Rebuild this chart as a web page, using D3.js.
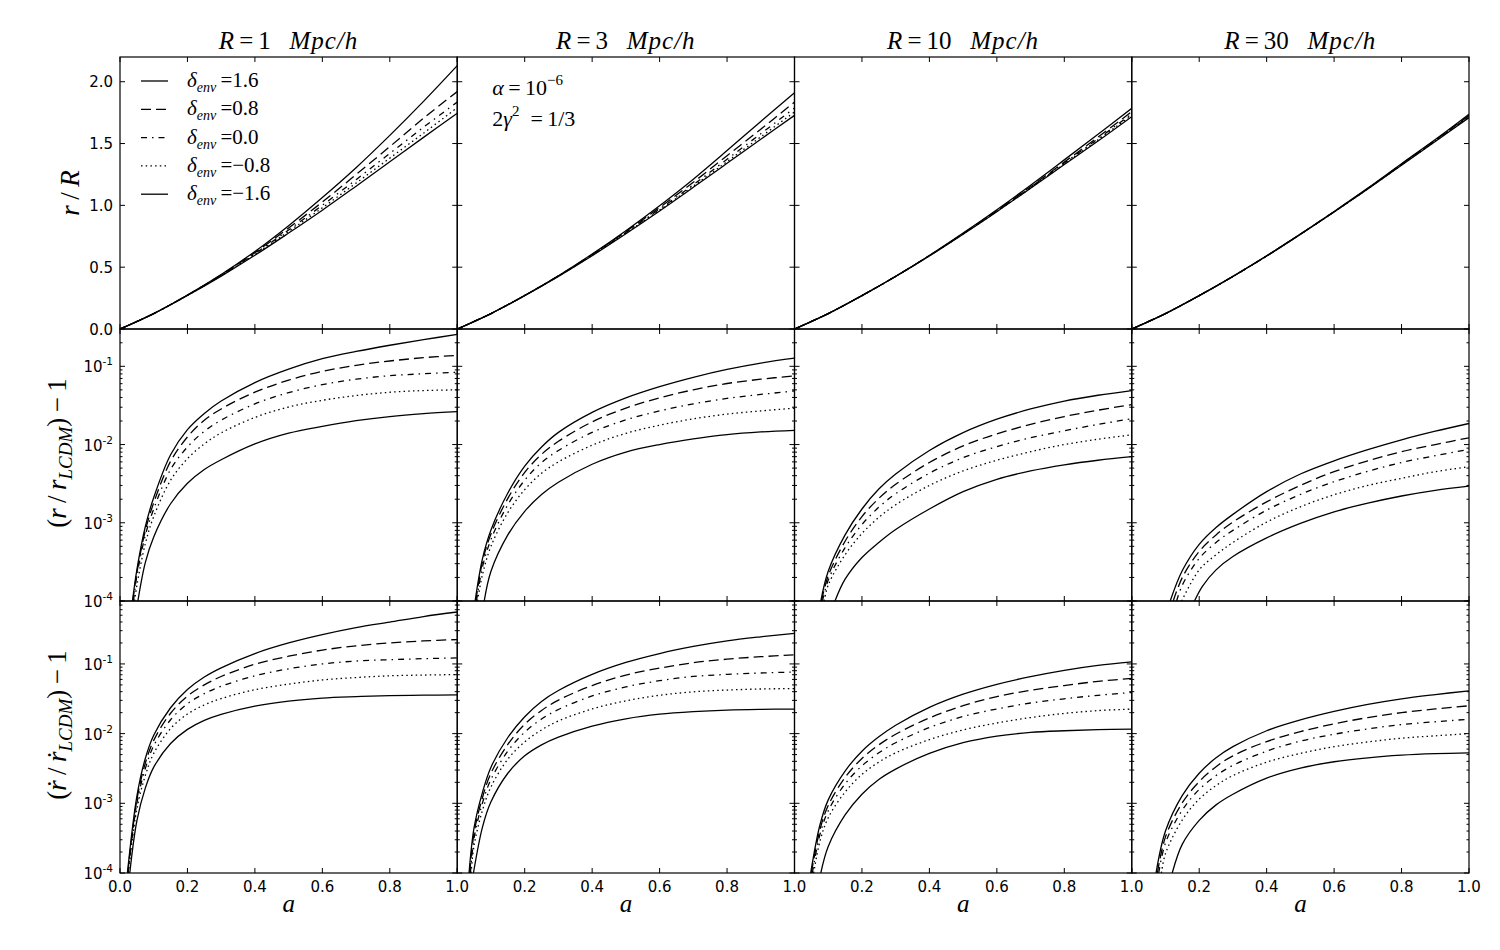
<!DOCTYPE html>
<html>
<head>
<meta charset="utf-8">
<script src="https://cdn.jsdelivr.net/npm/d3@7"></script>
<style>
body { margin: 0; background: #fff; }
text { fill: #000; }
</style>
</head>
<body>
<svg id="fig" width="1500" height="950"></svg>
<script>
// ---- data ----
var radii = [1, 3, 10, 30];
var deltas = ["1.6", "0.8", "0.0", "\u22120.8", "\u22121.6"];
var xTicks = [0, 0.2, 0.4, 0.6, 0.8, 1.0];
var xTickLabels = ["0.0", "0.2", "0.4", "0.6", "0.8", "1.0"];
var linTicks = [0, 0.5, 1.0, 1.5, 2.0];
var linTickLabels = ["0.0", "0.5", "1.0", "1.5", "2.0"];
var logExps = [-4, -3, -2, -1];

// r/R on this grid of a
var aLin = [0, 0.1, 0.2, 0.3, 0.4, 0.5, 0.6, 0.7, 0.8, 0.9, 1.0];
var rR1 = [
  [0, .125, .275, .441, .627, .836, 1.064, 1.305, 1.566, 1.841, 2.13],
  [0, .125, .274, .438, .618, .817, 1.027, 1.249, 1.475, 1.705, 1.92],
  [0, .125, .273, .434, .610, .801, 1.001, 1.208, 1.420, 1.632, 1.835],
  [0, .125, .272, .431, .604, .789, .980, 1.180, 1.382, 1.584, 1.79],
  [0, .125, .271, .428, .596, .776, .961, 1.155, 1.352, 1.550, 1.745]
];
var rR3 = [
  [0, .125, .271, .431, .606, .795, .997, 1.212, 1.443, 1.679, 1.91],
  [0, .125, .271, .430, .602, .788, .983, 1.187, 1.402, 1.616, 1.835],
  [0, .125, .271, .429, .599, .781, .970, 1.167, 1.373, 1.579, 1.788],
  [0, .125, .271, .428, .596, .776, .962, 1.156, 1.354, 1.554, 1.755],
  [0, .125, .270, .426, .593, .771, .955, 1.146, 1.340, 1.535, 1.728]
];
var rR10 = [
  [0, .125, .270, .427, .595, .776, .965, 1.163, 1.368, 1.575, 1.785],
  [0, .125, .270, .426, .594, .772, .958, 1.151, 1.350, 1.552, 1.758],
  [0, .125, .270, .426, .593, .770, .954, 1.146, 1.342, 1.539, 1.740],
  [0, .125, .270, .426, .592, .769, .951, 1.141, 1.335, 1.531, 1.728],
  [0, .125, .270, .425, .591, .767, .949, 1.138, 1.330, 1.520, 1.717]
];
var rR30 = [
  [0, .125, .270, .426, .592, .768, .951, 1.140, 1.337, 1.532, 1.737],
  [0, .125, .270, .425, .591, .767, .949, 1.137, 1.333, 1.528, 1.726],
  [0, .125, .270, .425, .591, .767, .948, 1.135, 1.330, 1.524, 1.720],
  [0, .125, .270, .425, .590, .766, .947, 1.134, 1.327, 1.520, 1.714],
  [0, .125, .270, .425, .590, .765, .946, 1.133, 1.325, 1.517, 1.710]
];

// (r/r_LCDM)-1 : [a, value]
var dr1 = [
  [[.037,1e-4],[.05,2.5e-4],[.075,8.9e-4],[.1,2.1e-3],[.15,7.4e-3],[.2,.0155],[.25,.025],[.3,.036],[.4,.062],[.5,.092],[.6,.125],[.7,.155],[.8,.186],[.9,.219],[1,.256]],
  [[.038,1e-4],[.05,2.3e-4],[.075,7.9e-4],[.1,1.8e-3],[.15,6.1e-3],[.2,.0125],[.25,.0205],[.3,.0285],[.4,.0468],[.5,.0665],[.6,.0861],[.7,.103],[.8,.117],[.9,.129],[1,.138]],
  [[.04,1e-4],[.05,2.1e-4],[.075,6.9e-4],[.1,1.5e-3],[.15,4.8e-3],[.2,9.3e-3],[.25,.0148],[.3,.0205],[.4,.0331],[.5,.0461],[.6,.0583],[.7,.0684],[.8,.0759],[.9,.0804],[1,.084]],
  [[.043,1e-4],[.05,1.58e-4],[.075,5.4e-4],[.1,1.2e-3],[.15,3.5e-3],[.2,6.6e-3],[.25,.0102],[.3,.0141],[.4,.0222],[.5,.0302],[.6,.0368],[.7,.0423],[.8,.0466],[.9,.049],[1,.05]],
  [[.053,1e-4],[.075,3.1e-4],[.1,6.6e-4],[.15,1.75e-3],[.2,3.2e-3],[.25,4.8e-3],[.3,6.4e-3],[.4,.0102],[.5,.014],[.6,.0171],[.7,.0202],[.8,.0228],[.9,.0248],[1,.0263]]
];
var dr3 = [
  [[.053,1e-4],[.075,3.5e-4],[.1,8.1e-4],[.15,2.4e-3],[.2,5.3e-3],[.25,9.3e-3],[.3,.0143],[.4,.0258],[.5,.0395],[.6,.055],[.7,.0724],[.8,.0912],[.9,.11],[1,.127]],
  [[.055,1e-4],[.075,3.2e-4],[.1,7.2e-4],[.15,2.05e-3],[.2,4.4e-3],[.25,7.5e-3],[.3,.011],[.4,.0195],[.5,.0292],[.6,.0395],[.7,.0501],[.8,.0603],[.9,.0684],[1,.0757]],
  [[.057,1e-4],[.075,2.75e-4],[.1,6.1e-4],[.15,1.7e-3],[.2,3.5e-3],[.25,5.9e-3],[.3,8.4e-3],[.4,.0143],[.5,.0207],[.6,.0269],[.7,.0331],[.8,.0389],[.9,.0437],[1,.0484]],
  [[.06,1e-4],[.075,2.2e-4],[.1,5e-4],[.15,1.35e-3],[.2,2.65e-3],[.25,4.3e-3],[.3,6e-3],[.4,9.8e-3],[.5,.0139],[.6,.0177],[.7,.0213],[.8,.0245],[.9,.0269],[1,.0292]],
  [[.08,1e-4],[.1,2.4e-4],[.15,7e-4],[.2,1.4e-3],[.25,2.3e-3],[.3,3.3e-3],[.4,5.6e-3],[.5,8e-3],[.6,.01],[.7,.0118],[.8,.0134],[.9,.0145],[1,.0152]]
];
var dr10 = [
  [[.078,1e-4],[.1,2.4e-4],[.15,7e-4],[.2,1.5e-3],[.25,2.7e-3],[.3,4.2e-3],[.4,8.4e-3],[.5,.0142],[.6,.0211],[.7,.0285],[.8,.036],[.9,.0427],[1,.049]],
  [[.08,1e-4],[.1,2.1e-4],[.15,5.8e-4],[.2,1.2e-3],[.25,2.05e-3],[.3,3.1e-3],[.4,5.9e-3],[.5,9.6e-3],[.6,.0137],[.7,.0181],[.8,.0228],[.9,.0275],[1,.0324]],
  [[.083,1e-4],[.1,1.85e-4],[.15,4.8e-4],[.2,9.5e-4],[.25,1.58e-3],[.3,2.35e-3],[.4,4.3e-3],[.5,6.8e-3],[.6,9.4e-3],[.7,.0122],[.8,.015],[.9,.0181],[1,.0214]],
  [[.088,1e-4],[.1,1.6e-4],[.15,3.9e-4],[.2,7.3e-4],[.25,1.17e-3],[.3,1.7e-3],[.4,3e-3],[.5,4.6e-3],[.6,6.3e-3],[.7,8.1e-3],[.8,.01],[.9,.0117],[1,.0133]],
  [[.12,1e-4],[.15,1.9e-4],[.2,3.6e-4],[.25,5.6e-4],[.3,8.2e-4],[.4,1.5e-3],[.5,2.5e-3],[.6,3.6e-3],[.7,4.6e-3],[.8,5.5e-3],[.9,6.3e-3],[1,7e-3]]
];
var dr30 = [
  [[.114,1e-4],[.15,2.45e-4],[.2,5.3e-4],[.25,8.7e-4],[.3,1.28e-3],[.4,2.5e-3],[.5,4.2e-3],[.6,6.2e-3],[.7,8.6e-3],[.8,.0115],[.9,.0148],[1,.0186]],
  [[.123,1e-4],[.15,2e-4],[.2,4.3e-4],[.25,7e-4],[.3,1.02e-3],[.4,1.85e-3],[.5,3e-3],[.6,4.5e-3],[.7,6.2e-3],[.8,8.1e-3],[.9,.01],[1,.0122]],
  [[.133,1e-4],[.15,1.6e-4],[.2,3.5e-4],[.25,5.6e-4],[.3,8e-4],[.4,1.45e-3],[.5,2.3e-3],[.6,3.35e-3],[.7,4.55e-3],[.8,5.9e-3],[.9,7.2e-3],[1,8.7e-3]],
  [[.148,1e-4],[.2,2.5e-4],[.25,3.9e-4],[.3,5.6e-4],[.4,1.02e-3],[.5,1.6e-3],[.6,2.28e-3],[.7,3e-3],[.8,3.7e-3],[.9,4.5e-3],[1,5.2e-3]],
  [[.186,1e-4],[.21,1.55e-4],[.25,2.5e-4],[.3,3.7e-4],[.4,6.4e-4],[.5,9.8e-4],[.6,1.38e-3],[.7,1.78e-3],[.8,2.2e-3],[.9,2.6e-3],[1,2.94e-3]]
];

// (rdot/rdot_LCDM)-1 : [a, value]
var dv1 = [
  [[.022,1e-4],[.05,1.26e-3],[.075,4.4e-3],[.1,9.5e-3],[.15,.0235],[.2,.043],[.25,.065],[.3,.088],[.4,.141],[.5,.2],[.6,.263],[.7,.331],[.8,.398],[.9,.479],[1,.556]],
  [[.023,1e-4],[.05,1.12e-3],[.075,3.75e-3],[.1,8e-3],[.15,.0196],[.2,.0345],[.25,.05],[.3,.066],[.4,.099],[.5,.129],[.6,.158],[.7,.182],[.8,.2],[.9,.214],[1,.224]],
  [[.024,1e-4],[.05,1e-3],[.075,3.15e-3],[.1,6.7e-3],[.15,.0158],[.2,.0268],[.25,.0375],[.3,.0478],[.4,.0676],[.5,.0851],[.6,.1],[.7,.11],[.8,.115],[.9,.119],[1,.122]],
  [[.025,1e-4],[.05,8.3e-4],[.075,2.5e-3],[.1,5.2e-3],[.15,.0118],[.2,.0191],[.25,.0258],[.3,.0318],[.4,.0427],[.5,.0513],[.6,.0589],[.7,.0638],[.8,.0676],[.9,.0692],[1,.0705]],
  [[.029,1e-4],[.05,5.6e-4],[.075,1.65e-3],[.1,3.3e-3],[.15,7.2e-3],[.2,.0115],[.25,.0155],[.3,.0189],[.4,.0248],[.5,.0293],[.6,.0323],[.7,.0339],[.8,.0351],[.9,.0356],[1,.0359]]
];
var dv3 = [
  [[.035,1e-4],[.05,4.5e-4],[.075,1.45e-3],[.1,3.3e-3],[.15,8.8e-3],[.2,.0175],[.25,.029],[.3,.0415],[.4,.0708],[.5,.105],[.6,.141],[.7,.178],[.8,.214],[.9,.245],[1,.275]],
  [[.037,1e-4],[.05,3.8e-4],[.075,1.22e-3],[.1,2.7e-3],[.15,7e-3],[.2,.0136],[.25,.0215],[.3,.0302],[.4,.049],[.5,.0692],[.6,.0871],[.7,.104],[.8,.117],[.9,.127],[1,.135]],
  [[.039,1e-4],[.05,3.2e-4],[.075,1.02e-3],[.1,2.2e-3],[.15,5.6e-3],[.2,.0105],[.25,.0162],[.3,.0222],[.4,.0347],[.5,.0468],[.6,.0575],[.7,.0661],[.8,.0708],[.9,.0741],[1,.0766]],
  [[.041,1e-4],[.05,2.5e-4],[.075,8e-4],[.1,1.72e-3],[.15,4.3e-3],[.2,7.6e-3],[.25,.0113],[.3,.0152],[.4,.0226],[.5,.0295],[.6,.0355],[.7,.0398],[.8,.0422],[.9,.0437],[1,.0443]],
  [[.048,1e-4],[.075,4.6e-4],[.1,1.05e-3],[.15,2.7e-3],[.2,4.8e-3],[.25,6.9e-3],[.3,8.9e-3],[.4,.0128],[.5,.0163],[.6,.019],[.7,.0207],[.8,.0218],[.9,.0223],[1,.0225]]
];
var dv10 = [
  [[.048,1e-4],[.075,4.8e-4],[.1,1.12e-3],[.15,2.9e-3],[.2,5.6e-3],[.25,9e-3],[.3,.0132],[.4,.0238],[.5,.0368],[.6,.051],[.7,.0658],[.8,.0811],[.9,.0955],[1,.107]],
  [[.05,1e-4],[.075,4.1e-4],[.1,9.3e-4],[.15,2.35e-3],[.2,4.4e-3],[.25,6.9e-3],[.3,9.8e-3],[.4,.0168],[.5,.0252],[.6,.034],[.7,.0418],[.8,.049],[.9,.0562],[1,.0621]],
  [[.053,1e-4],[.075,3.5e-4],[.1,7.8e-4],[.15,1.9e-3],[.2,3.45e-3],[.25,5.3e-3],[.3,7.4e-3],[.4,.0122],[.5,.0176],[.6,.0226],[.7,.0275],[.8,.0316],[.9,.0355],[1,.0389]],
  [[.057,1e-4],[.075,2.8e-4],[.1,6.2e-4],[.15,1.45e-3],[.2,2.6e-3],[.25,3.9e-3],[.3,5.3e-3],[.4,8.2e-3],[.5,.0113],[.6,.0142],[.7,.017],[.8,.0195],[.9,.0214],[1,.0225]],
  [[.078,1e-4],[.1,2.4e-4],[.15,6.8e-4],[.2,1.35e-3],[.25,2.2e-3],[.3,3.1e-3],[.4,5.2e-3],[.5,7.4e-3],[.6,9.2e-3],[.7,.0104],[.8,.011],[.9,.0114],[1,.0116]]
];
var dv30 = [
  [[.072,1e-4],[.1,4e-4],[.15,1.3e-3],[.2,2.7e-3],[.25,4.5e-3],[.3,6.5e-3],[.4,.011],[.5,.0157],[.6,.0208],[.7,.0262],[.8,.0315],[.9,.0363],[1,.0412]],
  [[.076,1e-4],[.1,3.3e-4],[.15,1.02e-3],[.2,2.05e-3],[.25,3.35e-3],[.3,4.8e-3],[.4,7.7e-3],[.5,.0107],[.6,.0138],[.7,.017],[.8,.02],[.9,.0226],[1,.0251]],
  [[.08,1e-4],[.1,2.7e-4],[.15,8e-4],[.2,1.58e-3],[.25,2.5e-3],[.3,3.5e-3],[.4,5.6e-3],[.5,7.8e-3],[.6,9.8e-3],[.7,.0117],[.8,.0135],[.9,.0148],[1,.0161]],
  [[.088,1e-4],[.1,1.9e-4],[.15,5.8e-4],[.2,1.15e-3],[.25,1.8e-3],[.3,2.5e-3],[.4,3.9e-3],[.5,5.2e-3],[.6,6.5e-3],[.7,7.6e-3],[.8,8.6e-3],[.9,9.3e-3],[1,.01]],
  [[.12,1e-4],[.15,2.6e-4],[.2,5.7e-4],[.25,9.5e-4],[.3,1.35e-3],[.4,2.3e-3],[.5,3.2e-3],[.6,3.95e-3],[.7,4.5e-3],[.8,4.9e-3],[.9,5.15e-3],[1,5.3e-3]]
];

// ---- layout ----
var svg = d3.select("#fig");
var L0 = 120, T0 = 57, PW = 337.25, PH = 272;
var serif = "'Liberation Serif','DejaVu Serif',serif";
var sans = "'DejaVu Sans',sans-serif";
// solid, dashed, dash-dot, dotted, solid
var dashes = [null, "10,5", "6,5,1.5,5", "1.5,3.2", null];

var rows = [
  {log: false, domain: [0, 2.2], data: [rR1, rR3, rR10, rR30].map(function(p){
      return p.map(function(s){ return s.map(function(v, i){ return [aLin[i], v]; }); });
  })},
  {log: true, domain: [1e-4, 0.3], data: [dr1, dr3, dr10, dr30]},
  {log: true, domain: [1e-4, 0.8], data: [dv1, dv3, dv10, dv30]}
];

var x = d3.scaleLinear().domain([0, 1]).range([0, PW]);

rows.forEach(function(row, ri){
  var y = (row.log ? d3.scaleLog() : d3.scaleLinear()).domain(row.domain).range([PH, 0]);
  var line = d3.line().x(function(d){ return x(d[0]); }).y(function(d){ return y(d[1]); })
      .curve(d3.curveCatmullRom.alpha(0.5));

  row.data.forEach(function(panel, ci){
    var g = svg.append("g").attr("transform", "translate(" + (L0 + ci * PW) + "," + (T0 + ri * PH) + ")");
    var cid = "clip" + ri + ci;
    g.append("clipPath").attr("id", cid).append("rect").attr("width", PW).attr("height", PH);

    var lines = g.append("g").attr("clip-path", "url(#" + cid + ")");
    panel.forEach(function(s, si){
      lines.append("path").datum(s)
        .attr("d", line)
        .attr("fill", "none")
        .attr("stroke", "#000")
        .attr("stroke-width", 1.3)
        .attr("stroke-dasharray", dashes[si]);
    });

    // ticks, all four sides pointing in
    var tk = g.append("g").attr("stroke", "#000").attr("stroke-width", 1);
    xTicks.forEach(function(t){
      tk.append("line").attr("x1", x(t)).attr("x2", x(t)).attr("y1", PH).attr("y2", PH - 5);
      tk.append("line").attr("x1", x(t)).attr("x2", x(t)).attr("y1", 0).attr("y2", 5);
    });
    var major, minor = [];
    if (row.log) {
      major = logExps.map(function(e){ return Math.pow(10, e); });
      logExps.forEach(function(e){
        for (var m = 2; m <= 9; m++) {
          var v = m * Math.pow(10, e);
          if (v <= row.domain[1]) minor.push(v);
        }
      });
    } else {
      major = linTicks;
    }
    major.forEach(function(t){
      tk.append("line").attr("x1", 0).attr("x2", 5).attr("y1", y(t)).attr("y2", y(t));
      tk.append("line").attr("x1", PW).attr("x2", PW - 5).attr("y1", y(t)).attr("y2", y(t));
    });
    minor.forEach(function(t){
      tk.append("line").attr("x1", 0).attr("x2", 2.5).attr("y1", y(t)).attr("y2", y(t));
      tk.append("line").attr("x1", PW).attr("x2", PW - 2.5).attr("y1", y(t)).attr("y2", y(t));
    });

    g.append("rect").attr("width", PW).attr("height", PH)
      .attr("fill", "none").attr("stroke", "#000").attr("stroke-width", 1.2);

    // y tick labels on the first column
    if (ci === 0) {
      if (row.log) {
        logExps.forEach(function(e){
          var t = g.append("text").attr("x", -7).attr("y", y(Math.pow(10, e)) + 6)
            .attr("text-anchor", "end").attr("font-family", sans).attr("font-size", 15);
          t.append("tspan").text("10");
          t.append("tspan").attr("font-size", 10.5).attr("dy", -7).text(String(e));
        });
      } else {
        linTicks.forEach(function(t, i){
          g.append("text").attr("x", -7).attr("y", y(t) + 5.5)
            .attr("text-anchor", "end").attr("font-family", sans).attr("font-size", 15)
            .text(linTickLabels[i]);
        });
      }
    }
    // x tick labels on the bottom row
    if (ri === 2) {
      xTicks.forEach(function(t, i){
        if (ci > 0 && i === 0) return;
        g.append("text").attr("x", x(t)).attr("y", PH + 19)
          .attr("text-anchor", "middle").attr("font-family", sans).attr("font-size", 15)
          .text(xTickLabels[i]);
      });
      g.append("text").attr("x", PW / 2).attr("y", PH + 39)
        .attr("text-anchor", "middle").attr("font-family", serif).attr("font-style", "italic")
        .attr("font-size", 25).text("a");
    }
    // column titles
    if (ri === 0) {
      var tt = g.append("text").attr("x", PW / 2).attr("y", -8).attr("text-anchor", "middle")
        .attr("font-family", serif).attr("font-size", 25);
      tt.append("tspan").attr("font-style", "italic").text("R");
      tt.append("tspan").text("\u2009=\u2009" + radii[ci] + "\u2002 ");
      tt.append("tspan").attr("font-style", "italic").attr("letter-spacing", 1).text("Mpc/h");
    }
  });
});

// legend in the first panel
var lg = svg.append("g").attr("transform", "translate(" + L0 + "," + T0 + ")");
deltas.forEach(function(d, i){
  var yy = 24 + i * 28.3;
  lg.append("line").attr("x1", 21).attr("x2", 48).attr("y1", yy).attr("y2", yy)
    .attr("stroke", "#000").attr("stroke-width", 1.3).attr("stroke-dasharray", dashes[i]);
  var t = lg.append("text").attr("x", 67).attr("y", yy + 6).attr("font-family", serif).attr("font-size", 21);
  t.append("tspan").attr("font-style", "italic").text("\u03b4");
  t.append("tspan").attr("font-style", "italic").attr("font-size", 14).attr("dy", 5).text("env");
  t.append("tspan").attr("dy", -5).text("\u2009=" + d);
});

// parameter note in the second panel
var nt = svg.append("g").attr("transform", "translate(" + (L0 + PW) + "," + T0 + ")");
var n1 = nt.append("text").attr("x", 35).attr("y", 38).attr("font-family", serif).attr("font-size", 22);
n1.append("tspan").attr("font-style", "italic").text("\u03b1");
n1.append("tspan").text("\u2009=\u200910");
n1.append("tspan").attr("font-size", 15).attr("dy", -10).text("\u22126");
var n2 = nt.append("text").attr("x", 35).attr("y", 69).attr("font-family", serif).attr("font-size", 22);
n2.append("tspan").text("2");
n2.append("tspan").attr("font-style", "italic").text("\u03b3");
n2.append("tspan").attr("font-size", 15).attr("dy", -10).text("2");
n2.append("tspan").attr("dy", 10).text("\u2002=\u20091/3");

// y axis labels
function ylab(cx, cy, parts) {
  var t = svg.append("text").attr("transform", "translate(" + cx + "," + cy + ") rotate(-90)")
    .attr("text-anchor", "middle").attr("font-family", serif).attr("font-size", 27);
  parts.forEach(function(p){
    var s = t.append("tspan").text(p[0]);
    if (p[1]) s.attr("font-style", "italic");
    if (p[2]) s.attr("font-size", p[2]);
    if (p[3]) s.attr("dy", p[3]);
  });
}
ylab(79, T0 + PH / 2, [["r", 1], ["\u2009/\u2009", 0], ["R", 1]]);
ylab(66, T0 + PH * 1.5 - 12, [["(", 0], ["r", 1], ["\u2009/\u2009", 0], ["r", 1], ["LCDM", 1, 19, 6], [")", 0, null, -6], ["\u2009\u2212\u20091", 0]]);
ylab(66, T0 + PH * 2.5 - 12, [["(", 0], ["\u1e59", 1], ["\u2009/\u2009", 0], ["\u1e59", 1], ["LCDM", 1, 19, 6], [")", 0, null, -6], ["\u2009\u2212\u20091", 0]]);
</script>
</body>
</html>
